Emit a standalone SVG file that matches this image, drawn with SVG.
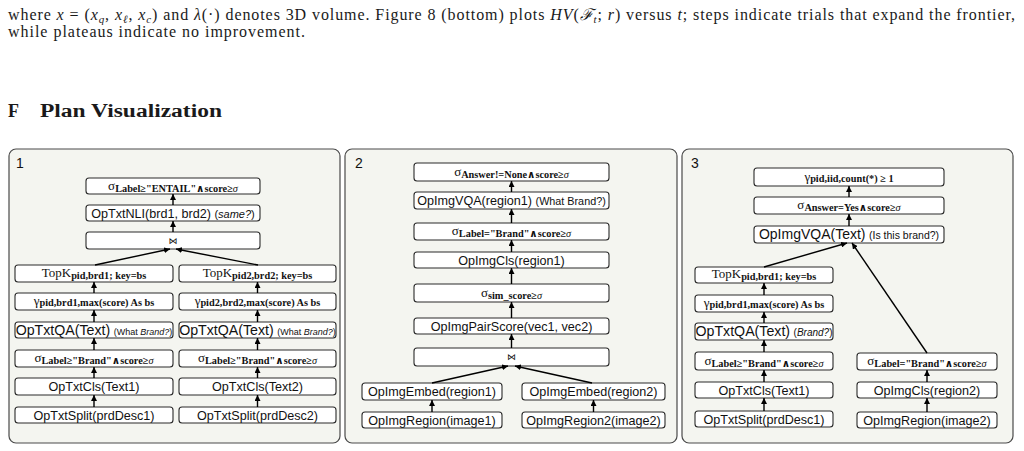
<svg xmlns="http://www.w3.org/2000/svg" width="1024" height="451" viewBox="0 0 1024 451">
<defs>
<style>
.bg{fill:#ffffff}
.txt{font-family:"Liberation Serif","DejaVu Serif",serif;font-size:16px;fill:#1a1a1a}
.it{font-style:italic}
.head{font-family:"Liberation Serif","DejaVu Serif",serif;font-size:18px;font-weight:bold;fill:#1a1a1a}
.panel{fill:#f4f5f0;stroke:#4a4a4a;stroke-width:1.2}
.plabel{font-family:"Liberation Sans",Arial,sans-serif;font-size:14px;fill:#111}
.node rect{fill:#ffffff;stroke:#2a2a2a;stroke-width:1.1}
.op{font-family:"Liberation Sans",Arial,sans-serif;font-size:12.6px;fill:#111;text-anchor:middle}
.sm{font-size:9px}
.ser{font-family:"Liberation Serif","DejaVu Serif",serif;font-size:13px;fill:#111;text-anchor:middle}
.sub{font-size:10.3px;font-weight:bold}
.join{font-family:"DejaVu Sans",sans-serif;font-size:9px;fill:#111;text-anchor:middle}
.conn line{stroke:#000;stroke-width:1.4;marker-end:url(#ah)}
</style>
<marker id="ah" viewBox="0 0 10 10" refX="10" refY="5" markerWidth="6" markerHeight="6" markerUnits="userSpaceOnUse" orient="auto">
<path d="M0,0 L10,5 L0,10 z" fill="#000"/>
</marker>
</defs>
<rect class="bg" x="0" y="0" width="1024" height="451"/>

<g id="body-text">
<text class="txt" x="8" y="20" textLength="1007" lengthAdjust="spacing">where <tspan class="it">x</tspan> = (<tspan class="it">x</tspan><tspan class="it" font-size="11" dy="3">q</tspan><tspan dy="-3">, </tspan><tspan class="it">x</tspan><tspan class="it" font-size="11" dy="3">ℓ</tspan><tspan dy="-3">, </tspan><tspan class="it">x</tspan><tspan class="it" font-size="11" dy="3">c</tspan><tspan dy="-3">) and </tspan><tspan class="it">λ</tspan>(·) denotes 3D volume. Figure 8 (bottom) plots <tspan class="it">HV</tspan>(<tspan class="it">ℱ</tspan><tspan class="it" font-size="11" dy="3">t</tspan><tspan dy="-3">; </tspan><tspan class="it">r</tspan>) versus <tspan class="it">t</tspan>; steps indicate trials that expand the frontier,</text>
<text class="txt" x="8" y="36.5" textLength="297" lengthAdjust="spacing">while plateaus indicate no improvement.</text>
<text class="head" x="8" y="117">F</text>
<text class="head" x="40" y="117" textLength="182" lengthAdjust="spacingAndGlyphs">Plan Visualization</text>
</g>

<g id="panels">
<rect class="panel" x="9" y="149" width="331" height="294" rx="7"/>
<rect class="panel" x="345" y="149" width="332" height="294" rx="7"/>
<rect class="panel" x="682" y="149" width="331" height="294" rx="7"/>
<text class="plabel" x="16" y="168">1</text>
<text class="plabel" x="355" y="168">2</text>
<text class="plabel" x="691" y="168">3</text>
</g>

<!-- Panel 1 -->
<g id="p1-filter-entail" class="node"><rect x="86" y="178" width="174" height="16" rx="3"/><text class="ser" x="173" y="190"><tspan>σ</tspan><tspan class="sub" dy="1.5">Label≥"ENTAIL"∧score≥<tspan font-style="italic" font-weight="normal">σ</tspan></tspan></text></g>
<g id="p1-nli" class="node"><rect x="86" y="205" width="174" height="16" rx="3"/><text class="op" x="173" y="218">OpTxtNLI(brd1, brd2) <tspan font-size="11">(<tspan font-style="italic">same?</tspan>)</tspan></text></g>
<g id="p1-join" class="node"><rect x="86" y="232" width="174" height="17" rx="3"/><text class="join" x="173" y="244">⋈</text></g>

<g id="p1-topk1" class="node"><rect x="15" y="265" width="158" height="17" rx="3"/><text class="ser" x="94" y="277"><tspan>TopK</tspan><tspan class="sub" dy="2">pid,brd1; key=bs</tspan></text></g>
<g id="p1-topk2" class="node"><rect x="179" y="265" width="157" height="17" rx="3"/><text class="ser" x="257.5" y="277"><tspan>TopK</tspan><tspan class="sub" dy="2">pid2,brd2; key=bs</tspan></text></g>
<g id="p1-gamma1" class="node"><rect x="15" y="293" width="158" height="17" rx="3"/><text class="ser" x="94" y="305"><tspan>γ</tspan><tspan class="sub" dy="0.5">pid,brd1,max(score) As bs</tspan></text></g>
<g id="p1-gamma2" class="node"><rect x="179" y="293" width="157" height="17" rx="3"/><text class="ser" x="257.5" y="305"><tspan>γ</tspan><tspan class="sub" dy="0.5">pid2,brd2,max(score) As bs</tspan></text></g>
<g id="p1-qa1" class="node"><rect x="15" y="322" width="158" height="16" rx="3"/><text class="op" x="94" y="335"><tspan font-size="14.2">OpTxtQA(Text)</tspan> <tspan class="sm">(What <tspan font-style="italic">Brand?</tspan>)</tspan></text></g>
<g id="p1-qa2" class="node"><rect x="179" y="322" width="157" height="16" rx="3"/><text class="op" x="257.5" y="335"><tspan font-size="14.2">OpTxtQA(Text)</tspan> <tspan class="sm">(What <tspan font-style="italic">Brand?</tspan>)</tspan></text></g>
<g id="p1-filter1" class="node"><rect x="15" y="350" width="158" height="17" rx="3"/><text class="ser" x="94" y="362"><tspan>σ</tspan><tspan class="sub" dy="1.5">Label≥"Brand"∧score≥<tspan font-style="italic" font-weight="normal">σ</tspan></tspan></text></g>
<g id="p1-filter2" class="node"><rect x="179" y="350" width="157" height="17" rx="3"/><text class="ser" x="257.5" y="362"><tspan>σ</tspan><tspan class="sub" dy="1.5">Label≥"Brand"∧score≥<tspan font-style="italic" font-weight="normal">σ</tspan></tspan></text></g>
<g id="p1-cls1" class="node"><rect x="15" y="378" width="158" height="17" rx="3"/><text class="op" x="94" y="391">OpTxtCls(Text1)</text></g>
<g id="p1-cls2" class="node"><rect x="179" y="378" width="157" height="17" rx="3"/><text class="op" x="257.5" y="391">OpTxtCls(Text2)</text></g>
<g id="p1-split1" class="node"><rect x="15" y="407" width="158" height="16" rx="3"/><text class="op" x="94" y="420">OpTxtSplit(prdDesc1)</text></g>
<g id="p1-split2" class="node"><rect x="179" y="407" width="157" height="16" rx="3"/><text class="op" x="257.5" y="420">OpTxtSplit(prdDesc2)</text></g>

<!-- Panel 2 -->
<g id="p2-filter-answer" class="node"><rect x="414" y="163" width="195" height="18" rx="3"/><text class="ser" x="511.5" y="176"><tspan>σ</tspan><tspan class="sub" dy="1.5">Answer!=None∧score≥<tspan font-style="italic" font-weight="normal">σ</tspan></tspan></text></g>
<g id="p2-vqa" class="node"><rect x="414" y="192" width="195" height="17" rx="3"/><text class="op" x="511.5" y="205">OpImgVQA(region1) <tspan font-size="10.8">(What Brand?)</tspan></text></g>
<g id="p2-filter-label" class="node"><rect x="414" y="223" width="195" height="17" rx="3"/><text class="ser" x="511.5" y="235"><tspan>σ</tspan><tspan class="sub" dy="1.5">Label="Brand"∧score≥<tspan font-style="italic" font-weight="normal">σ</tspan></tspan></text></g>
<g id="p2-cls" class="node"><rect x="414" y="252" width="195" height="16" rx="3"/><text class="op" x="511.5" y="265">OpImgCls(region1)</text></g>
<g id="p2-filter-sim" class="node"><rect x="414" y="284" width="195" height="18" rx="3"/><text class="ser" x="511.5" y="297"><tspan>σ</tspan><tspan class="sub" dy="1.5">sim_score≥<tspan font-style="italic" font-weight="normal">σ</tspan></tspan></text></g>
<g id="p2-pairscore" class="node"><rect x="414" y="318" width="195" height="16" rx="3"/><text class="op" x="511.5" y="331">OpImgPairScore(vec1, vec2)</text></g>
<g id="p2-join" class="node"><rect x="414" y="348" width="195" height="18" rx="3"/><text class="join" x="511.5" y="360">⋈</text></g>
<g id="p2-embed1" class="node"><rect x="362" y="383" width="140" height="17" rx="3"/><text class="op" x="432" y="396">OpImgEmbed(region1)</text></g>
<g id="p2-embed2" class="node"><rect x="522" y="383" width="143" height="17" rx="3"/><text class="op" x="593.5" y="396">OpImgEmbed(region2)</text></g>
<g id="p2-region1" class="node"><rect x="362" y="412" width="140" height="16" rx="3"/><text class="op" x="432" y="425">OpImgRegion(image1)</text></g>
<g id="p2-region2" class="node"><rect x="522" y="412" width="143" height="16" rx="3"/><text class="op" x="593.5" y="425">OpImgRegion2(image2)</text></g>

<!-- Panel 3 -->
<g id="p3-gamma-count" class="node"><rect x="754" y="168" width="190" height="18" rx="3"/><text class="ser" x="849" y="181"><tspan>γ</tspan><tspan class="sub" dy="0.5">pid,iid,count(*) ≥ 1</tspan></text></g>
<g id="p3-filter-answer" class="node"><rect x="754" y="197" width="190" height="17" rx="3"/><text class="ser" x="849" y="209"><tspan>σ</tspan><tspan class="sub" dy="1.5">Answer=Yes∧score≥<tspan font-style="italic" font-weight="normal">σ</tspan></tspan></text></g>
<g id="p3-vqa" class="node"><rect x="754" y="226" width="190" height="17" rx="3"/><text class="op" x="849" y="239"><tspan font-size="14">OpImgVQA(Text)</tspan> <tspan font-size="10.5">(Is this brand?)</tspan></text></g>
<g id="p3-topk" class="node"><rect x="695" y="267" width="138" height="16" rx="3"/><text class="ser" x="764" y="278"><tspan>TopK</tspan><tspan class="sub" dy="2">pid,brd1; key=bs</tspan></text></g>
<g id="p3-gamma" class="node"><rect x="695" y="295" width="138" height="17" rx="3"/><text class="ser" x="764" y="307"><tspan>γ</tspan><tspan class="sub" dy="0.5">pid,brd1,max(score) As bs</tspan></text></g>
<g id="p3-qa" class="node"><rect x="695" y="323" width="138" height="17" rx="3"/><text class="op" x="764" y="336"><tspan font-size="14.2">OpTxtQA(Text)</tspan> <tspan font-size="10">(<tspan font-style="italic">Brand?</tspan>)</tspan></text></g>
<g id="p3-filter-txt" class="node"><rect x="695" y="352" width="138" height="18" rx="3"/><text class="ser" x="764" y="365"><tspan>σ</tspan><tspan class="sub" dy="1.5">Label≥"Brand"∧score≥<tspan font-style="italic" font-weight="normal">σ</tspan></tspan></text></g>
<g id="p3-cls-txt" class="node"><rect x="695" y="382" width="138" height="16" rx="3"/><text class="op" x="764" y="395">OpTxtCls(Text1)</text></g>
<g id="p3-split" class="node"><rect x="695" y="411" width="138" height="16" rx="3"/><text class="op" x="764" y="424">OpTxtSplit(prdDesc1)</text></g>
<g id="p3-filter-img" class="node"><rect x="857" y="353" width="140" height="17" rx="3"/><text class="ser" x="927" y="365"><tspan>σ</tspan><tspan class="sub" dy="1.5">Label="Brand"∧score≥<tspan font-style="italic" font-weight="normal">σ</tspan></tspan></text></g>
<g id="p3-cls-img" class="node"><rect x="857" y="382" width="140" height="16" rx="3"/><text class="op" x="927" y="395">OpImgCls(region2)</text></g>
<g id="p3-region" class="node"><rect x="857" y="412" width="140" height="16" rx="3"/><text class="op" x="927" y="425">OpImgRegion(image2)</text></g>

<g id="connectors" class="conn">
<!-- panel 1 -->
<line x1="173" y1="205" x2="173" y2="194"/>
<line x1="173" y1="232" x2="173" y2="221"/>
<line x1="95" y1="265" x2="170" y2="249"/>
<line x1="258" y1="265" x2="176" y2="249"/>
<line x1="94" y1="293" x2="94" y2="282"/>
<line x1="257.5" y1="293" x2="257.5" y2="282"/>
<line x1="94" y1="322" x2="94" y2="310"/>
<line x1="257.5" y1="322" x2="257.5" y2="310"/>
<line x1="94" y1="350" x2="94" y2="338"/>
<line x1="257.5" y1="350" x2="257.5" y2="338"/>
<line x1="94" y1="378" x2="94" y2="367"/>
<line x1="257.5" y1="378" x2="257.5" y2="367"/>
<line x1="94" y1="407" x2="94" y2="395"/>
<line x1="257.5" y1="407" x2="257.5" y2="395"/>
<!-- panel 2 -->
<line x1="511.5" y1="192" x2="511.5" y2="181"/>
<line x1="511.5" y1="223" x2="511.5" y2="209"/>
<line x1="511.5" y1="252" x2="511.5" y2="240"/>
<line x1="511.5" y1="284" x2="511.5" y2="268"/>
<line x1="511.5" y1="318" x2="511.5" y2="302"/>
<line x1="511.5" y1="348" x2="511.5" y2="334"/>
<line x1="432" y1="383" x2="508" y2="366"/>
<line x1="592" y1="383" x2="515" y2="366"/>
<line x1="432" y1="412" x2="432" y2="400"/>
<line x1="593.5" y1="412" x2="593.5" y2="400"/>
<!-- panel 3 -->
<line x1="849" y1="197" x2="849" y2="186"/>
<line x1="849" y1="226" x2="849" y2="214"/>
<line x1="764" y1="267" x2="847" y2="243"/>
<line x1="927" y1="353" x2="852" y2="243"/>
<line x1="764" y1="295" x2="764" y2="283"/>
<line x1="764" y1="323" x2="764" y2="312"/>
<line x1="764" y1="352" x2="764" y2="340"/>
<line x1="764" y1="382" x2="764" y2="370"/>
<line x1="764" y1="411" x2="764" y2="398"/>
<line x1="927" y1="382" x2="927" y2="370"/>
<line x1="927" y1="412" x2="927" y2="398"/>
</g>
</svg>
